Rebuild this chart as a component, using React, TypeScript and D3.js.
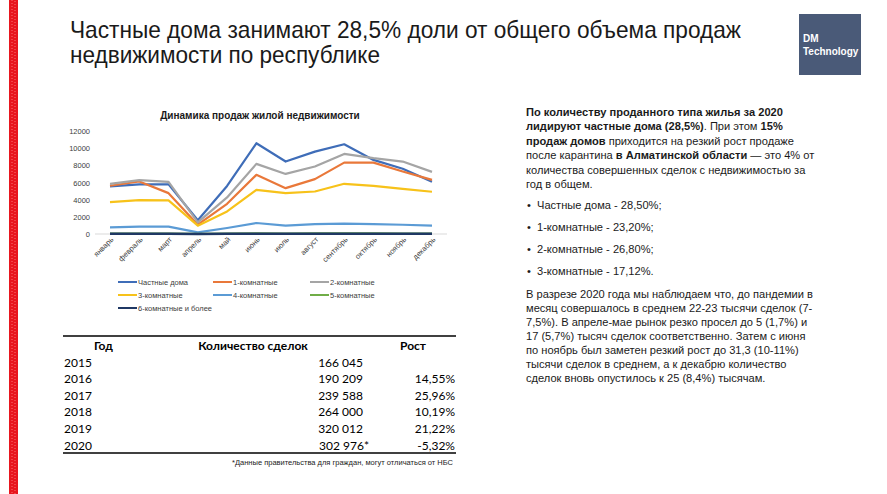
import React from "react";
import * as d3 from "d3";

const months = ["январь","февраль","март","апрель","май","июнь","июль","август","сентябрь","октябрь","ноябрь","декабрь"];
const yTicks = [0, 2000, 4000, 6000, 8000, 10000, 12000];

const seriesNames = ["Частные дома","1-комнатные","2-комнатные","3-комнатные","4-комнатные","5-комнатные","6-комнатные и более"];
const seriesColors = ["#3F6DB8","#E9783A","#A5A5A5","#F7C21A","#5B9BD5","#70AD47","#1F3864"];

const privateHouses = [5550, 5780, 5780, 1600, 5600, 10570, 8440, 9600, 10450, 8630, 7600, 6100];
const rooms1 = [5620, 6120, 4760, 1080, 3520, 6890, 5340, 6390, 8320, 8320, 7280, 6300];
const rooms2 = [5850, 6270, 6080, 1350, 4260, 8170, 7000, 7860, 9330, 8830, 8440, 7240];
const rooms3 = [3720, 3950, 3910, 970, 2630, 5150, 4760, 4950, 5850, 5610, 5260, 4920];
const rooms4 = [770, 850, 850, 190, 700, 1280, 970, 1160, 1200, 1160, 1080, 970];
const rooms5 = [60, 60, 60, 20, 40, 70, 60, 70, 70, 70, 60, 60];
const rooms6 = [20, 20, 20, 10, 15, 25, 20, 25, 25, 25, 20, 20];
const seriesValues = [privateHouses, rooms1, rooms2, rooms3, rooms4, rooms5, rooms6];

const tableYears = ["2015","2016","2017","2018","2019","2020"];
const tableDeals = ["166 045","190 209","239 588","264 000","320 012","302 976*"];
const tableGrowth = ["","14,55%","25,96%","10,19%","21,22%","-5,32%"];

const shares = ["Частные дома - 28,50%;","1-комнатные - 23,20%;","2-комнатные - 26,80%;","3-комнатные - 17,12%."];
const paragraph2 = [
  "В разрезе 2020 года мы наблюдаем что, до пандемии в",
  "месяц совершалось в среднем 22-23 тысячи сделок (7-",
  "7,5%). В апреле-мае рынок резко просел до 5 (1,7%) и",
  "17 (5,7%) тысяч сделок соответственно. Затем с июня",
  "по ноябрь был заметен резкий рост до 31,3 (10-11%)",
  "тысячи сделок в среднем, а к декабрю количество",
  "сделок вновь опустилось к 25 (8,4%) тысячам.",
];

const W = 887, H = 494;

export default function App() {
  const x = d3.scalePoint<string>().domain(months).range([110, 432]);
  const y = d3.scaleLinear().domain([0, 12000]).range([234, 131]);
  const line = d3.line<number>().x((_, i) => x(months[i]) as number).y((d) => y(d));

  const sans = "'Liberation Sans', Arial, sans-serif";
  const narrow = "'Liberation Sans Narrow', 'Arial Narrow', 'Liberation Sans', sans-serif";
  const tableFont = "Lato, 'Open Sans', sans-serif";

  const legendPos = [
    [118, 282], [213, 282], [310, 282],
    [118, 295], [213, 295], [310, 295],
    [118, 308],
  ];

  const rightX = 526;
  const lh = 14.4;
  const p1y = 116;

  return (
    <svg width={W} height={H} style={{ position: "absolute", left: 0, top: 0, background: "#fff" }} xmlns="http://www.w3.org/2000/svg">
      <rect x={0} y={0} width={W} height={H} fill="#fff" />
      {/* red strip */}
      <rect x={9} y={0} width={9} height={H} fill="#E8161E" />
      <line x1={12} y1={0} x2={12} y2={H} stroke="#FF8A8A" strokeWidth={0.8} strokeDasharray="1 2" />
      <line x1={15} y1={1} x2={15} y2={H} stroke="#FF8A8A" strokeWidth={0.8} strokeDasharray="1 2" />

      {/* title */}
      <text x={70} y={38} fontFamily={narrow} fontSize={24} fill="#1a1a1a" textLength={671} lengthAdjust="spacingAndGlyphs">Частные дома занимают 28,5% доли от общего объема продаж</text>
      <text x={70} y={63} fontFamily={narrow} fontSize={24} fill="#1a1a1a" textLength={310} lengthAdjust="spacingAndGlyphs">недвижимости по республике</text>

      {/* logo */}
      <rect x={799} y={14} width={62} height={61} fill="#4A5A78" />
      <text x={803} y={42} fontFamily={sans} fontSize={10} fontWeight="bold" fill="#fff">DM</text>
      <text x={803} y={55} fontFamily={sans} fontSize={10} fontWeight="bold" fill="#fff">Technology</text>

      {/* chart title */}
      <text x={260} y={119} textAnchor="middle" fontFamily={sans} fontSize={10} fontWeight="bold" fill="#1a1a1a">Динамика продаж жилой недвижимости</text>

      {/* y axis labels */}
      {yTicks.map((t) => (
        <text key={t} x={90} y={y(t) + 3} textAnchor="end" fontFamily={sans} fontSize={7.5} fill="#404040">{t}</text>
      ))}
      {/* baseline */}
      <line x1={95} x2={447} y1={y(0)} y2={y(0)} stroke="#D9D9D9" strokeWidth={1} />

      {/* x labels */}
      {months.map((m) => {
        const px = (x(m) as number) + 4;
        const py = 240;
        return (
          <text key={m} x={px} y={py} textAnchor="end" transform={`rotate(-45 ${px} ${py})`} fontFamily={sans} fontSize={7.5} fill="#404040">{m}</text>
        );
      })}

      {/* lines */}
      {seriesValues.map((vals, i) => (
        <path key={seriesNames[i]} d={line(vals) as string} fill="none" stroke={seriesColors[i]} strokeWidth={i === 6 ? 2.5 : 2.2} strokeLinejoin="round" />
      ))}

      {/* legend */}
      {seriesNames.map((n, i) => {
        const [lx, ly] = legendPos[i];
        return (
          <g key={n}>
            <line x1={lx} x2={lx + 19} y1={ly} y2={ly} stroke={seriesColors[i]} strokeWidth={2} />
            <text x={lx + 20} y={ly + 3} fontFamily={sans} fontSize={7.5} fill="#404040">{n}</text>
          </g>
        );
      })}

      {/* table */}
      <line x1={63} x2={456} y1={336} y2={336} stroke="#000" strokeWidth={1.5} />
      <text x={94} y={350} fontFamily={tableFont} fontSize={12} fontWeight="bold" fill="#000">Год</text>
      <text x={253} y={350} textAnchor="middle" fontFamily={tableFont} fontSize={12} fontWeight="bold" fill="#000">Количество сделок</text>
      <text x={413} y={350} textAnchor="middle" fontFamily={tableFont} fontSize={12} fontWeight="bold" fill="#000">Рост</text>
      {tableYears.map((yr, i) => {
        const ry = 366.5 + i * 16.6;
        return (
          <g key={yr}>
            <text x={64} y={ry} fontFamily={tableFont} fontSize={12} fill="#000">{yr}</text>
            <text x={tableDeals[i].endsWith("*") ? 369 : 363} y={ry} textAnchor="end" fontFamily={tableFont} fontSize={12} fill="#000">{tableDeals[i]}</text>
            <text x={455} y={ry} textAnchor="end" fontFamily={tableFont} fontSize={12} fill="#000">{tableGrowth[i]}</text>
          </g>
        );
      })}
      <line x1={63} x2={456} y1={453} y2={453} stroke="#000" strokeWidth={1.5} />
      <text x={453} y={465} textAnchor="end" fontFamily={sans} fontSize={7.5} fill="#222">*Данные правительства для граждан, могут отличаться от НБС</text>

      {/* right text */}
      <g fontFamily={sans} fontSize={11.1} fill="#1a1a1a">
        <text x={rightX} y={p1y}><tspan fontWeight="bold">По количеству проданного типа жилья за 2020</tspan></text>
        <text x={rightX} y={p1y + lh}><tspan fontWeight="bold">лидируют частные дома (28,5%)</tspan>. При этом <tspan fontWeight="bold">15%</tspan></text>
        <text x={rightX} y={p1y + 2 * lh}><tspan fontWeight="bold">продаж домов</tspan> приходится на резкий рост продаже</text>
        <text x={rightX} y={p1y + 3 * lh}>после карантина <tspan fontWeight="bold">в Алматинской области</tspan> — это 4% от</text>
        <text x={rightX} y={p1y + 4 * lh}>количества совершенных сделок с недвижимостью за</text>
        <text x={rightX} y={p1y + 5 * lh}>год в общем.</text>
        {shares.map((s, i) => (
          <g key={s}>
            <text x={527} y={209 + i * 22}>•</text>
            <text x={537} y={209 + i * 22}>{s}</text>
          </g>
        ))}
        {paragraph2.map((s, i) => (
          <text key={i} x={rightX} y={298 + i * 14}>{s}</text>
        ))}
      </g>
    </svg>
  );
}
